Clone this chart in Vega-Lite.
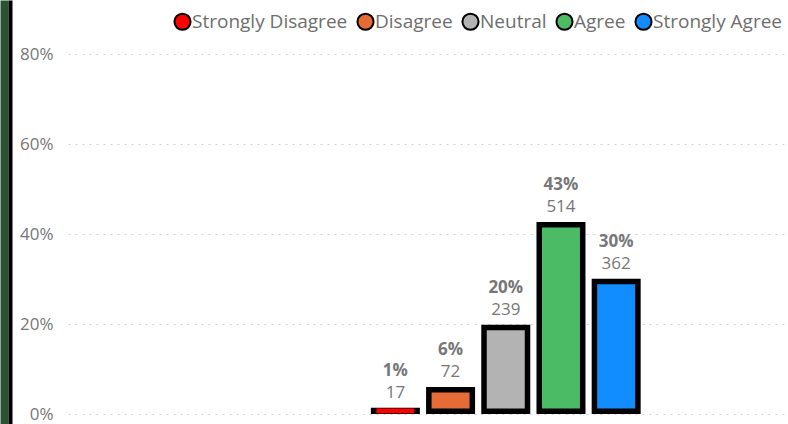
{
  "$schema": "https://vega.github.io/schema/vega-lite/v6.json",
  "width": 717,
  "height": 424,
  "autosize": {"type": "none"},
  "padding": {"left": 68, "top": 0, "right": 3, "bottom": 0},
  "background": "#ffffff",
  "config": {
    "view": {"stroke": null},
    "font": "Open Sans",
    "axis": {"labelFont": "Open Sans"},
    "legend": {"labelFont": "Open Sans"}
  },
  "data": {
    "values": [
      {"response": "Strongly Disagree", "count": 17, "pct": 0.0141},
      {"response": "Disagree", "count": 72, "pct": 0.0598},
      {"response": "Neutral", "count": 239, "pct": 0.1985},
      {"response": "Agree", "count": 514, "pct": 0.4269},
      {"response": "Strongly Agree", "count": 362, "pct": 0.3007}
    ]
  },
  "encoding": {
    "x": {
      "field": "response",
      "type": "nominal",
      "scale": {
        "domain": ["p1", "p2", "p3", "p4", "p5", "Strongly Disagree", "Disagree", "Neutral", "Agree", "Strongly Agree", "p6", "p7"],
        "paddingInner": 0.1123,
        "paddingOuter": 0.5507,
        "align": 0.442
      },
      "axis": null
    },
    "y": {
      "field": "pct",
      "type": "quantitative",
      "scale": {"domain": [-0.022222, 0.92], "nice": false, "zero": false}
    }
  },
  "layer": [
    {
      "mark": {"type": "bar", "color": "#000000"},
      "encoding": {
        "y": {
          "field": "pct",
          "type": "quantitative",
          "axis": {
            "orient": "left",
            "values": [0, 0.2, 0.4, 0.6, 0.8],
            "format": ".0%",
            "domain": false,
            "ticks": false,
            "labelPadding": 15,
            "labelFontSize": 17,
            "labelColor": "#777777",
            "grid": true,
            "gridColor": "#d2d2d2",
            "gridDash": [2, 5],
            "gridWidth": 1,
            "title": null
          }
        }
      }
    },
    {
      "mark": {"type": "bar", "width": 38, "yOffset": 5.5, "y2Offset": -5.5},
      "encoding": {
        "y": {"field": "pct", "type": "quantitative", "axis": null},
        "y2": {"datum": 0},
        "color": {
          "field": "response",
          "type": "nominal",
          "scale": {
            "domain": ["Strongly Disagree", "Disagree", "Neutral", "Agree", "Strongly Agree"],
            "range": ["#ff0000", "#e66c37", "#b3b3b3", "#4cbb66", "#118dff"]
          },
          "legend": {
            "orient": "none",
            "direction": "horizontal",
            "legendX": 105,
            "legendY": 12,
            "title": null,
            "symbolType": "circle",
            "symbolSize": 260,
            "symbolStrokeColor": "#000000",
            "symbolStrokeWidth": 2,
            "symbolOpacity": 1,
            "labelFontSize": 19,
            "labelColor": "#6e6e6e",
            "labelOffset": 0,
            "columnPadding": 5
          }
        }
      }
    },
    {
      "mark": {"type": "text", "baseline": "middle", "align": "center", "dy": -37, "fontSize": 17, "fontWeight": "bold", "color": "#777777"},
      "encoding": {
        "y": {
          "field": "pct",
          "type": "quantitative",
          "axis": {"orient": "left", "offset": 64, "domain": true, "domainColor": "#2b5236", "domainWidth": 8, "labels": false, "ticks": false, "grid": false, "title": null}
        },
        "text": {"field": "pct", "type": "quantitative", "format": ".0%"}
      }
    },
    {
      "mark": {"type": "text", "baseline": "middle", "align": "center", "dy": -15, "fontSize": 17, "color": "#777777"},
      "encoding": {
        "y": {
          "field": "pct",
          "type": "quantitative",
          "axis": {"orient": "left", "offset": 58, "domain": true, "domainColor": "#000000", "domainWidth": 4, "labels": false, "ticks": false, "grid": false, "title": null}
        },
        "text": {"field": "count", "type": "quantitative"}
      }
    }
  ],
  "resolve": {"axis": {"y": "independent"}}
}
